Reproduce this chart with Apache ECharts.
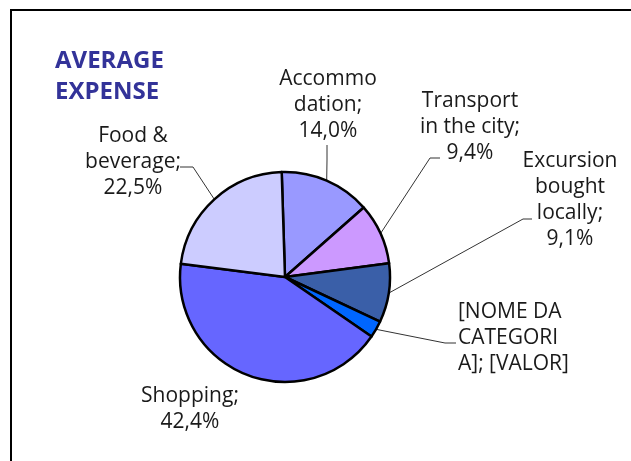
<!DOCTYPE html>
<html>
<head>
<meta charset="utf-8">
<script src="https://cdn.jsdelivr.net/npm/echarts@6/dist/echarts.min.js"></script>
<style>
  html, body { margin: 0; padding: 0; background: #fff; }
  #main { width: 631px; height: 461px; }
</style>
</head>
<body>
<div id="main"></div>
<script>
// slices clockwise from 12 o'clock
const categories = ['Accommodation', 'Transport in the city', 'Excursion bought locally', '[NOME DA CATEGORIA]', 'Shopping', 'Food & beverage'];
const values = [14.0, 9.4, 9.1, 2.6, 42.4, 22.5];
const labelNames = ['Accommo\ndation;', 'Transport\nin the city;', 'Excursion\nbought\nlocally;', null, 'Shopping;', 'Food &\nbeverage;'];
const colors = ['#9999ff', '#cc99ff', '#3a5fa8', '#0066ff', '#6666ff', '#ccccff'];

// label anchor, alignment, elbow + end of leader line
const labelPos = [
  { x: 328, y: 105, align: 'center', line: [[327, 160], [327, 145]] },
  { x: 470, y: 127, align: 'center', line: [[430, 158], [440, 158]] },
  { x: 570, y: 200, align: 'center', line: [[523, 219], [532, 219]] },
  { x: 458, y: 338, align: 'left', line: [[445, 343], [456, 343]] },
  { x: 190, y: 409, align: 'center', line: null },
  { x: 133, y: 162, align: 'center', line: [[193, 167], [180, 167]] }
];

function pct(v) {
  return v.toFixed(1).replace('.', ',') + '%';
}

const chart = echarts.init(document.getElementById('main'));

let option = {
  animation: false,
  title: {
    text: 'AVERAGE\nEXPENSE',
    left: 50,
    top: 41,
    textStyle: {
      fontFamily: 'Open Sans',
      fontSize: 24,
      fontWeight: 'bold',
      color: '#333399',
      lineHeight: 31
    }
  },
  graphic: [{
    type: 'rect',
    shape: { x: 11, y: 10, width: 660, height: 480 },
    style: { fill: 'none', stroke: '#000', lineWidth: 2 },
    silent: true
  }],
  series: [{
    type: 'pie',
    center: [285, 277],
    radius: 105,
    startAngle: 91.8,
    clockwise: true,
    silent: true,
    emphasis: { scale: false },
    itemStyle: { borderColor: '#000', borderWidth: 2.5 },
    label: {
      show: true,
      position: 'outside',
      fontFamily: 'Open Sans',
      fontSize: 21,
      lineHeight: 26,
      color: '#1a1a1a',
      formatter: (p) => {
        if (labelNames[p.dataIndex] === null) return '[NOME DA\nCATEGORI\nA]; [VALOR]';
        return labelNames[p.dataIndex] + '\n' + pct(p.value);
      }
    },
    labelLine: {
      show: true,
      lineStyle: { color: '#333', width: 1 }
    },
    labelLayout: function (params) {
      const pos = labelPos[params.dataIndex];
      let res = {
        x: pos.x,
        y: pos.y,
        align: pos.align,
        verticalAlign: 'middle'
      };
      if (pos.line && params.labelLinePoints) {
        res.labelLinePoints = [params.labelLinePoints[0], pos.line[0], pos.line[1]];
      }
      return res;
    },
    data: categories.map((c, i) => ({
      name: c,
      value: values[i],
      itemStyle: { color: colors[i] },
      labelLine: { show: labelPos[i].line !== null }
    }))
  }]
};

chart.setOption(option);
</script>
</body>
</html>
